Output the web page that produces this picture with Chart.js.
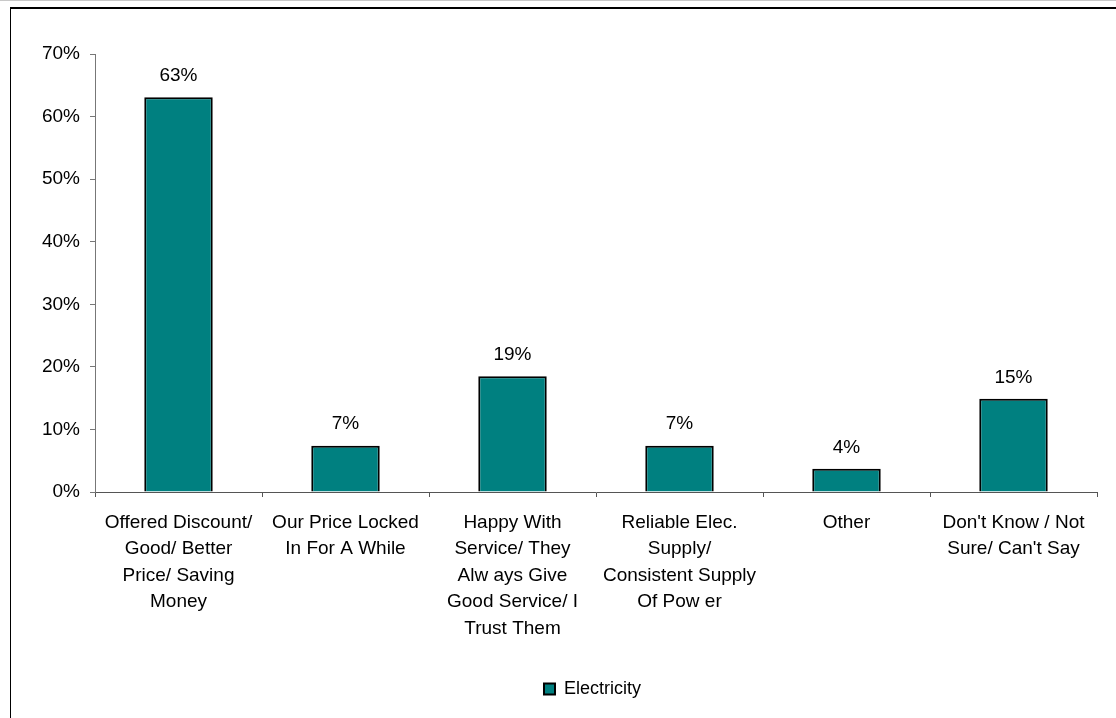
<!DOCTYPE html>
<html>
<head>
<meta charset="utf-8">
<script src="https://cdn.jsdelivr.net/npm/chart.js@4.4.0/dist/chart.umd.min.js"></script>
<style>
  html, body { margin: 0; padding: 0; background: #fff; }
  body { width: 1116px; height: 718px; position: relative; overflow: hidden; }
  #topline { position: absolute; left: 0; top: 0; width: 1116px; height: 1px; background: #c8c8c8; }
  #frame { position: absolute; left: 10px; top: 7px; width: 1200px; height: 800px; border-top: 2px solid #000; border-left: 1px solid #000; pointer-events: none; }
  canvas { position: absolute; left: 0; top: 0; }
</style>
</head>
<body>
<canvas id="reasons" width="1116" height="718"></canvas>
<div id="topline"></div>
<div id="frame"></div>
<script>
var categories = [
  ["Offered Discount/", "Good/ Better", "Price/ Saving", "Money"],
  ["Our Price Locked", "In For A While"],
  ["Happy With", "Service/ They", "Alw ays Give", "Good Service/ I", "Trust Them"],
  ["Reliable Elec.", "Supply/", "Consistent Supply", "Of Pow er"],
  ["Other"],
  ["Don't Know / Not", "Sure/ Can't Say"]
];
var electricity = [63.1, 7.4, 18.5, 7.4, 3.7, 14.9];
var yTicks = [0, 10, 20, 30, 40, 50, 60, 70];

var FONT = "'Liberation Sans', Arial, sans-serif";

// percent labels above each bar
var valueLabels = {
  id: 'valueLabels',
  afterDatasetsDraw: function (chart) {
    var ctx = chart.ctx;
    ctx.save();
    ctx.font = '19px ' + FONT;
    ctx.fillStyle = '#000';
    ctx.textAlign = 'center';
    ctx.textBaseline = 'bottom';
    chart.getDatasetMeta(0).data.forEach(function (bar, i) {
      ctx.fillText(Math.round(electricity[i]) + '%', bar.x, bar.y - 12);
    });
    ctx.restore();
  }
};

// nudge the legend a bit right of the canvas centre
var legendShift = {
  id: 'legendShift',
  afterLayout: function (chart) {
    if (chart.legend) {
      chart.legend.left += 44;
      chart.legend.right += 44;
    }
  }
};

var ctx = document.getElementById("reasons").getContext('2d');
var myChart = new Chart(ctx, {
  type: 'bar',
  data: {
    labels: categories,
    datasets: [{
      label: 'Electricity',
      data: electricity,
      backgroundColor: '#008080',
      borderColor: '#000',
      borderWidth: 2,
      categoryPercentage: 0.82,
      barPercentage: 0.5
    }]
  },
  plugins: [valueLabels, legendShift],
  options: {
    responsive: false,
    animation: false,
    devicePixelRatio: 1,
    layout: { padding: { top: 54, right: 19, bottom: 10, left: 0 } },
    plugins: {
      tooltip: { enabled: false },
      legend: {
        position: 'bottom',
        labels: {
          boxWidth: 11,
          boxHeight: 11,
          color: '#000',
          font: { family: FONT, size: 18 }
        }
      }
    },
    scales: {
      x: {
        offset: true,
        grid: { display: true, drawOnChartArea: false, drawTicks: true, tickLength: 5, offset: true, color: '#555' },
        border: { display: true, color: '#555', width: 1 },
        ticks: {
          autoSkip: false, maxRotation: 0, minRotation: 0, padding: 12,
          color: '#000',
          font: { family: FONT, size: 19, lineHeight: 1.4 }
        },
        afterFit: function (scale) { scale.height = 178; }
      },
      y: {
        min: 0, max: 70,
        afterBuildTicks: function (scale) {
          scale.ticks = yTicks.map(function (v) { return { value: v }; });
        },
        grid: { display: true, drawOnChartArea: false, drawTicks: true, tickLength: 5, color: '#777' },
        border: { display: true, color: '#777', width: 1 },
        ticks: {
          padding: 10,
          color: '#000',
          font: { family: FONT, size: 19 },
          callback: function (v) { return v + '%'; }
        },
        afterFit: function (scale) { scale.width = 95; }
      }
    }
  }
});
</script>
</body>
</html>
